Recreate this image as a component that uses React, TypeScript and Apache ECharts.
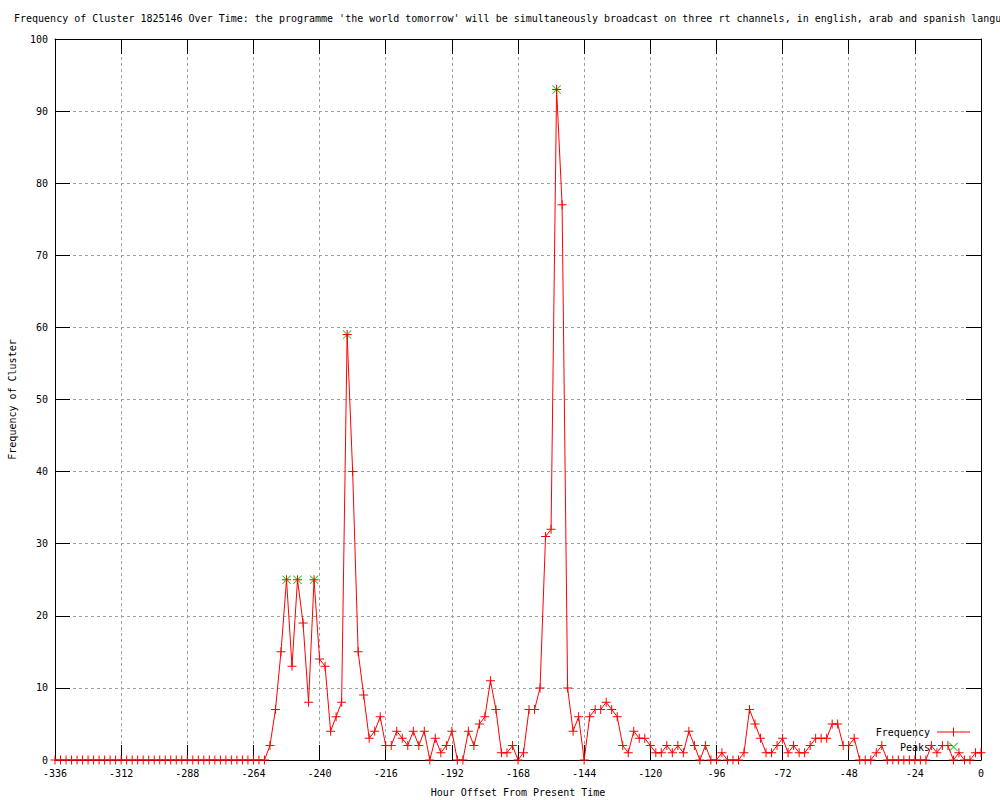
import React, { useEffect, useRef } from "react";
import * as echarts from "echarts";

const TITLE =
  "Frequency of Cluster 1825146 Over Time: the programme 'the world tomorrow' will be simultaneously broadcast on three rt channels, in english, arab and spanish languages";
const X_NAME = "Hour Offset From Present Time";
const Y_NAME = "Frequency of Cluster";

const START_HOUR = -336;
const STEP_HOURS = 2;

// Frequency per 2-hour bin, from -336 h to 0 h
const FREQUENCY: number[] = [
  0, 0, 0, 0, 0, 0, 0, 0, 0, 0,
  0, 0, 0, 0, 0, 0, 0, 0, 0, 0,
  0, 0, 0, 0, 0, 0, 0, 0, 0, 0,
  0, 0, 0, 0, 0, 0, 0, 0, 0,
  2, 7, 15, 25, 13, 25, 19, 8, 25, 14,
  13, 4, 6, 8, 59, 40, 15, 9, 3, 4,
  6, 2, 2, 4, 3, 2, 4, 2, 4, 0,
  3, 1, 2, 4, 0, 0, 4, 2, 5, 6,
  11, 7, 1, 1, 2, 0, 1, 7, 7, 10,
  31, 32, 93, 77, 10, 4, 6, 0, 6, 7,
  7, 8, 7, 6, 2, 1, 4, 3, 3, 2,
  1, 1, 2, 1, 2, 1, 4, 2, 0, 2,
  0, 0, 1, 0, 0, 0, 1, 7, 5, 3,
  1, 1, 2, 3, 1, 2, 1, 1, 2, 3,
  3, 3, 5, 5, 2, 2, 3, 0, 0, 0,
  1, 2, 0, 0, 0, 0, 0, 0, 0, 0,
  2, 1, 2, 2, 0, 1, 0, 0, 1, 1,
];

const PEAK_HOURS: number[] = [-252, -248, -242, -230, -154];

const X_MIN = -336;
const X_MAX = 0;
const X_INTERVAL = 24;
const Y_MIN = 0;
const Y_MAX = 100;
const Y_INTERVAL = 10;

const FONT = "DejaVu Sans Mono";
const PLUS = "path://M0,4h9v1h-9z M4,0h1v9h-1z";
const CROSS = "path://M0,0.7L0.7,0L9,8.3L8.3,9z M8.3,0L9,0.7L0.7,9L0,8.3z";
const KEY_LINE = "path://M0,4h33v1h-33z M16,0h1v9h-1z";

export default function App() {
  const ref = useRef<HTMLDivElement>(null);

  useEffect(() => {
    if (!ref.current) return;
    const chart = echarts.init(ref.current, null, { renderer: "svg" });

    const hours = FREQUENCY.map((_, i) => START_HOUR + i * STEP_HOURS);
    const freqData = hours.map((h, i) => [h, FREQUENCY[i]]);
    const peakData = PEAK_HOURS.map((h) => [h, FREQUENCY[hours.indexOf(h)]]);

    const tickCommon = {
      show: true,
      inside: true,
      length: 15,
      lineStyle: { color: "#000", width: 1 },
    };
    const splitCommon = {
      show: true,
      lineStyle: { color: "#a0a0a0", width: 1, type: [3, 3] as any },
    };
    const lineCommon = { show: true, onZero: false, lineStyle: { color: "#000", width: 1 } };
    const labelCommon = { color: "#000", fontFamily: FONT, fontSize: 10 };

    chart.setOption({
      animation: false,
      backgroundColor: "#fff",
      title: {
        text: TITLE,
        left: 14,
        top: 13,
        padding: 0,
        textStyle: { fontFamily: FONT, fontSize: 10, fontWeight: "normal", color: "#000" },
      },
      legend: {
        orient: "vertical",
        right: 30,
        top: 727,
        padding: 0,
        align: "right",
        itemGap: 5,
        itemWidth: 33,
        itemHeight: 9,
        selectedMode: false,
        textStyle: { ...labelCommon, padding: [0, 2, 0, 0] },
        data: [
          { name: "Frequency", icon: KEY_LINE, itemStyle: { color: "#ff0000" } },
          { name: "Peaks", icon: CROSS, itemStyle: { color: "#00c000" } },
        ],
      },
      grid: {
        left: 55,
        top: 39,
        width: 926,
        height: 721,
        containLabel: false,
        outerBoundsMode: "none",
      } as any,
      xAxis: [
        {
          type: "value",
          min: X_MIN,
          max: X_MAX,
          interval: X_INTERVAL,
          position: "bottom",
          name: X_NAME,
          nameLocation: "middle",
          nameGap: 27,
          nameTextStyle: { ...labelCommon },
          axisLine: lineCommon,
          axisTick: tickCommon,
          axisLabel: { ...labelCommon, margin: 8 },
          splitLine: splitCommon,
        },
        {
          type: "value",
          min: X_MIN,
          max: X_MAX,
          interval: X_INTERVAL,
          position: "top",
          axisLine: lineCommon,
          axisTick: tickCommon,
          axisLabel: { show: false },
          splitLine: { show: false },
        },
      ],
      yAxis: [
        {
          type: "value",
          min: Y_MIN,
          max: Y_MAX,
          interval: Y_INTERVAL,
          position: "left",
          name: Y_NAME,
          nameLocation: "middle",
          nameGap: 38,
          nameRotate: 90,
          nameTextStyle: { ...labelCommon },
          axisLine: lineCommon,
          axisTick: tickCommon,
          axisLabel: { ...labelCommon, margin: 7 },
          splitLine: splitCommon,
        },
        {
          type: "value",
          min: Y_MIN,
          max: Y_MAX,
          interval: Y_INTERVAL,
          position: "right",
          axisLine: lineCommon,
          axisTick: tickCommon,
          axisLabel: { show: false },
          splitLine: { show: false },
        },
      ],
      series: [
        {
          name: "Peaks",
          type: "scatter",
          data: peakData,
          symbol: CROSS,
          symbolSize: 9,
          itemStyle: { color: "#00c000" },
          z: 3,
        },
        {
          name: "Frequency",
          type: "line",
          data: freqData,
          showAllSymbol: true,
          symbol: PLUS,
          symbolSize: 9,
          lineStyle: { color: "#ff0000", width: 1 },
          itemStyle: { color: "#ff0000" },
          z: 4,
        },
      ],
    });

    return () => chart.dispose();
  }, []);

  return (
    <div
      ref={ref}
      style={{ position: "absolute", left: 0, top: 0, width: 1000, height: 800, background: "#fff" }}
    />
  );
}
